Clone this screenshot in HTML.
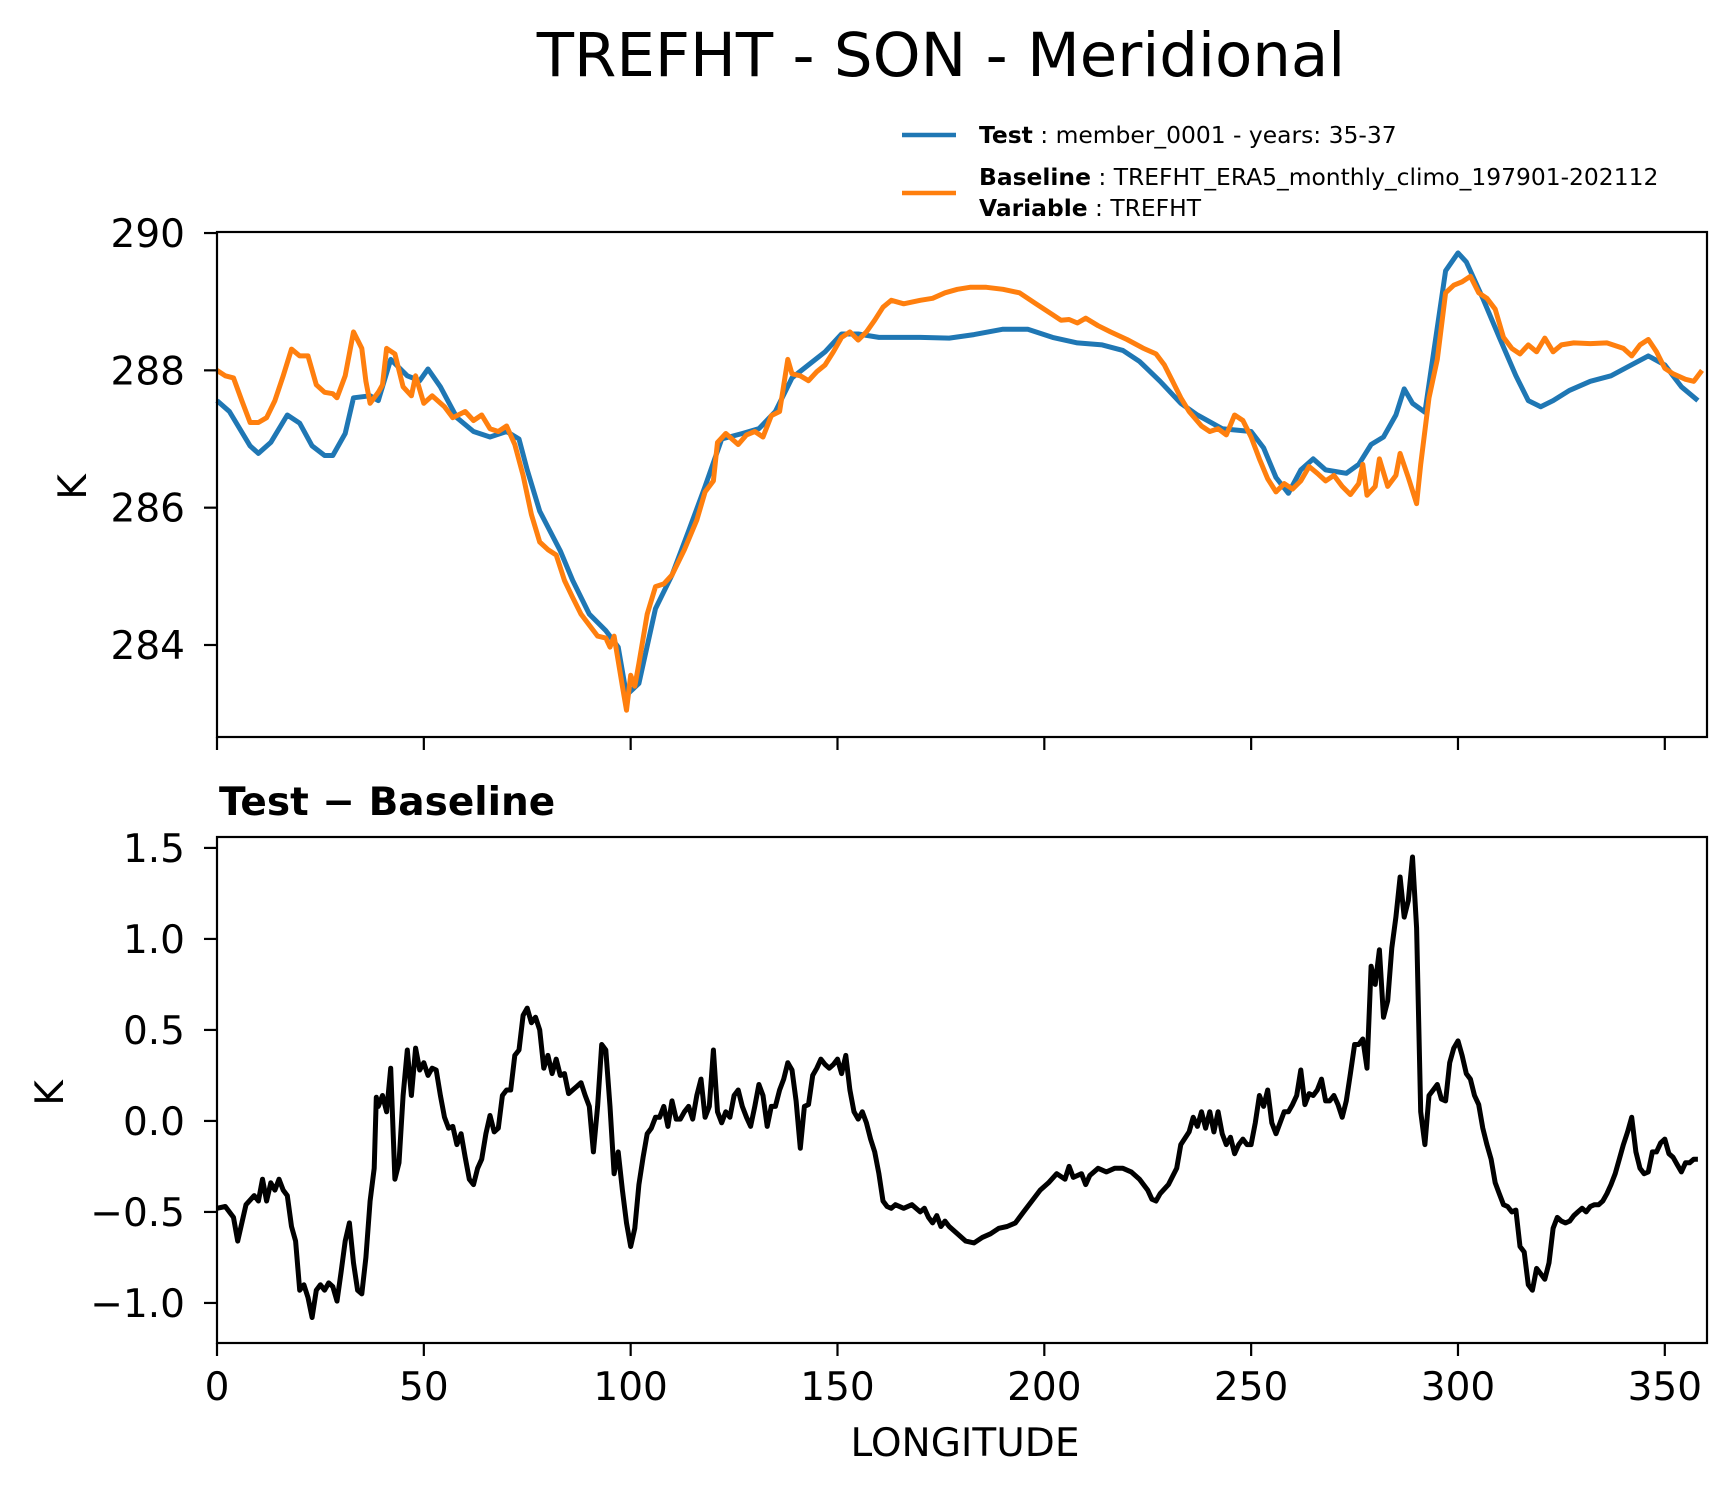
<!DOCTYPE html>
<html><head><meta charset="utf-8"><style>
html,body{margin:0;padding:0;background:#fff;}
svg{display:block;font-family:"DejaVu Sans","Liberation Sans",sans-serif;}
</style></head><body>
<svg id="chart" width="1734" height="1496" viewBox="0 0 1734 1496" xmlns="http://www.w3.org/2000/svg">
<rect width="1734" height="1496" fill="#fff"/>
<text x="941" y="76" font-size="61" text-anchor="middle">TREFHT - SON - Meridional</text>
<g>
<line x1="902" y1="135" x2="956" y2="135" stroke="#1f77b4" stroke-width="4.5"/>
<text x="979" y="143" font-size="23.4"><tspan font-weight="bold">Test</tspan> : member_0001 - years: 35-37</text>
<line x1="902" y1="193" x2="956" y2="193" stroke="#ff7f0e" stroke-width="4.5"/>
<text x="979" y="185" font-size="23.4"><tspan font-weight="bold">Baseline</tspan> : TREFHT_ERA5_monthly_climo_197901-202112</text>
<text x="979" y="216" font-size="23.4"><tspan font-weight="bold">Variable</tspan> : TREFHT</text>
</g>
<g id="top"></g>
<g id="bot"></g>
<text x="219" y="815" font-size="39" font-weight="bold">Test − Baseline</text>
<text transform="translate(86,487) rotate(-90)" font-size="39" text-anchor="middle">K</text>
<text transform="translate(63,1093) rotate(-90)" font-size="39" text-anchor="middle">K</text>
<text x="965" y="1456" font-size="39" text-anchor="middle">LONGITUDE</text>
</svg>
<script>
const testLon=[0,3,8,10,13,17,20,23,26,28,31,33,37,39,42,46,49,51,54,58,62,66,70,73,75,78,83,86,90,94,97,99,102,106,110,114,118,122,127,131,135,139,143,147,151,155,160,170,177,183,190,196,202,208,214,219,223,228,233,237,243,250,253,256,259,262,265,268,273,276,279,282,285,287,289,292,297,300,302,306,310,314,317,320,323,327,332,337,341,346,350,354,358];
const testVal=[287.56,287.40,286.90,286.79,286.95,287.35,287.23,286.90,286.76,286.76,287.08,287.60,287.63,287.56,288.16,287.92,287.85,288.02,287.76,287.31,287.11,287.03,287.11,287.00,286.55,285.95,285.37,284.94,284.45,284.21,283.97,283.27,283.44,284.53,285.02,285.66,286.31,287.00,287.08,287.15,287.40,287.89,288.08,288.27,288.53,288.53,288.48,288.48,288.47,288.52,288.60,288.60,288.48,288.40,288.37,288.29,288.13,287.84,287.52,287.35,287.15,287.11,286.87,286.44,286.21,286.55,286.71,286.55,286.50,286.63,286.92,287.03,287.35,287.73,287.52,287.39,289.45,289.71,289.58,289.05,288.48,287.92,287.56,287.47,287.56,287.71,287.84,287.92,288.05,288.21,288.08,287.76,287.56];
const baseLon=[0,2,4,6,8,10,12,14,16,18,20,22,24,26,28,29,31,33,35,36,37,39,40,41,43,45,47,48,50,52,55,57,60,62,64,66,68,70,72,74,76,78,80,82,84,86,88,90,92,94,95,96,98,99,100,101,102,104,106,108,110,113,116,118,120,121,123,126,128,130,132,134,136,138,139,141,143,145,147,149,151,153,155,157,159,161,163,166,170,173,176,179,182,186,190,194,198,202,204,206,208,210,213,216,220,224,227,229,231,233,235,238,240,242,244,246,248,250,252,254,256,258,260,262,264,266,268,270,272,274,276,277,278,280,281,283,285,286,288,290,291,293,295,297,299,301,303,305,307,309,311,313,315,317,319,321,323,325,328,332,336,340,342,344,346,348,350,352,355,357,359];
const baseVal=[288.00,287.92,287.89,287.56,287.24,287.24,287.31,287.56,287.92,288.31,288.21,288.21,287.79,287.68,287.66,287.60,287.92,288.56,288.32,287.84,287.52,287.68,287.79,288.32,288.24,287.76,287.63,287.92,287.52,287.63,287.47,287.31,287.40,287.27,287.35,287.15,287.11,287.19,286.92,286.47,285.90,285.50,285.39,285.31,284.94,284.69,284.45,284.29,284.13,284.10,283.97,284.13,283.40,283.05,283.56,283.40,283.73,284.45,284.85,284.89,285.02,285.39,285.82,286.23,286.39,286.95,287.08,286.92,287.06,287.11,287.03,287.34,287.40,288.16,287.95,287.92,287.85,287.98,288.08,288.27,288.48,288.56,288.44,288.56,288.73,288.92,289.02,288.97,289.02,289.05,289.13,289.18,289.21,289.21,289.18,289.13,288.97,288.81,288.73,288.74,288.69,288.76,288.65,288.56,288.45,288.32,288.24,288.08,287.84,287.60,287.40,287.19,287.11,287.15,287.06,287.35,287.27,287.03,286.71,286.42,286.23,286.35,286.27,286.39,286.60,286.50,286.39,286.47,286.31,286.19,286.35,286.63,286.18,286.31,286.71,286.31,286.47,286.79,286.44,286.06,286.63,287.60,288.16,289.13,289.24,289.29,289.37,289.13,289.05,288.89,288.48,288.32,288.24,288.37,288.27,288.47,288.27,288.37,288.40,288.39,288.40,288.32,288.21,288.37,288.45,288.27,288.03,287.95,287.87,287.84,288.00];
const diffLon=[0,2,4,5,7,9,10,11,12,13,14,15,16,17,18,19,20,21,22,23,24,25,26,27,28,29,30,31,32,33,34,35,36,37,38,38.5,39,40,41,42,43,44,45,46,47,48,49,50,51,52,53,54,55,56,57,58,59,60,61,62,63,64,65,66,67,68,69,70,71,72,73,74,75,76,77,78,79,80,81,82,83,84,85,86,87,88,89,90,91,92,93,94,95,96,97,98,99,100,101,102,103,104,105,106,107,108,109,110,111,112,113,114,115,116,117,118,119,120,121,122,123,124,125,126,127,128,129,130,131,132,133,134,135,136,137,138,139,140,141,142,143,144,145,146,147,148,149,150,151,152,153,154,155,156,157,158,159,160,161,162,163,164,166,168,170,171,172,173,174,175,176,177,179,181,183,185,187,189,191,193,195,197,199,201,203,205,206,207,209,210,211,213,215,217,219,221,223,225,226,227,228,230,232,233,235,236,237,238,239,240,241,242,243,244,245,246,247,248,249,250,251,252,253,254,255,256,257,258,259,260,261,262,263,264,265,266,267,268,269,270,271,272,273,274,275,276,277,278,279,280,281,282,283,284,285,286,287,288,289,290,291,292,293,294,295,296,297,298,299,300,301,302,303,304,305,306,307,308,309,310,311,312,313,314,315,316,317,318,319,320,321,322,323,324,325,326,327,328,329,330,331,332,333,334,335,336,337,338,339,340,341,342,343,344,345,346,347,348,349,350,351,352,353,354,355,356,357,358];
const diffVal=[-0.48,-0.47,-0.53,-0.66,-0.46,-0.41,-0.44,-0.32,-0.44,-0.34,-0.38,-0.32,-0.38,-0.41,-0.58,-0.66,-0.93,-0.90,-0.97,-1.08,-0.93,-0.90,-0.93,-0.89,-0.91,-0.99,-0.83,-0.66,-0.56,-0.78,-0.93,-0.95,-0.75,-0.44,-0.26,0.13,0.08,0.14,0.05,0.29,-0.32,-0.23,0.14,0.39,0.14,0.40,0.28,0.32,0.25,0.29,0.28,0.14,0.02,-0.04,-0.03,-0.13,-0.07,-0.20,-0.32,-0.35,-0.26,-0.21,-0.07,0.03,-0.06,-0.04,0.14,0.17,0.17,0.36,0.39,0.58,0.62,0.54,0.57,0.50,0.29,0.36,0.26,0.34,0.25,0.26,0.15,0.17,0.19,0.21,0.14,0.08,-0.17,0.08,0.42,0.39,0.08,-0.29,-0.17,-0.38,-0.56,-0.69,-0.59,-0.35,-0.20,-0.07,-0.04,0.02,0.02,0.08,-0.03,0.11,0.01,0.01,0.05,0.08,0.01,0.14,0.23,0.02,0.08,0.39,0.05,-0.01,0.05,0.02,0.14,0.17,0.08,0.02,-0.03,0.08,0.20,0.14,-0.03,0.08,0.08,0.17,0.23,0.32,0.28,0.11,-0.15,0.08,0.09,0.25,0.29,0.34,0.31,0.29,0.31,0.34,0.26,0.36,0.17,0.05,0.01,0.05,-0.01,-0.10,-0.17,-0.29,-0.44,-0.47,-0.48,-0.46,-0.48,-0.46,-0.50,-0.48,-0.53,-0.56,-0.52,-0.58,-0.55,-0.58,-0.62,-0.66,-0.67,-0.64,-0.62,-0.59,-0.58,-0.56,-0.50,-0.44,-0.38,-0.34,-0.29,-0.32,-0.25,-0.31,-0.29,-0.35,-0.30,-0.26,-0.28,-0.26,-0.26,-0.28,-0.32,-0.38,-0.43,-0.44,-0.40,-0.35,-0.26,-0.13,-0.06,0.02,-0.03,0.05,-0.04,0.05,-0.06,0.05,-0.07,-0.13,-0.09,-0.18,-0.13,-0.10,-0.13,-0.13,-0.01,0.14,0.08,0.17,-0.01,-0.07,-0.01,0.05,0.05,0.09,0.14,0.28,0.09,0.15,0.14,0.17,0.23,0.11,0.11,0.14,0.09,0.02,0.11,0.26,0.42,0.42,0.45,0.29,0.85,0.75,0.94,0.57,0.66,0.95,1.12,1.34,1.12,1.21,1.45,1.06,0.05,-0.13,0.14,0.17,0.20,0.12,0.11,0.32,0.40,0.44,0.36,0.26,0.23,0.14,0.09,-0.04,-0.13,-0.21,-0.34,-0.40,-0.46,-0.47,-0.50,-0.49,-0.69,-0.72,-0.90,-0.93,-0.81,-0.84,-0.87,-0.78,-0.59,-0.53,-0.55,-0.56,-0.55,-0.52,-0.50,-0.48,-0.50,-0.47,-0.46,-0.46,-0.44,-0.40,-0.35,-0.29,-0.21,-0.13,-0.06,0.02,-0.17,-0.26,-0.29,-0.28,-0.17,-0.17,-0.12,-0.10,-0.18,-0.20,-0.24,-0.28,-0.23,-0.23,-0.21,-0.21];
const xTicks=[0,50,100,150,200,250,300,350];
const topYTicks=[284,286,288,290];
const botYTicks=[-1.0,-0.5,0.0,0.5,1.0,1.5];
const botYLabels=["−1.0","−0.5","0.0","0.5","1.0","1.5"];

const NS="http://www.w3.org/2000/svg";
const L=217,R=1707,XMIN=0,XMAX=360.2;
function xs(v){return L+(v-XMIN)/(XMAX-XMIN)*(R-L);}
function mk(tag,attrs,parent){const e=document.createElementNS(NS,tag);for(const k in attrs)e.setAttribute(k,attrs[k]);parent.appendChild(e);return e;}
const topG=document.getElementById('top'),botG=document.getElementById('bot');
const T0=232,T1=737,TYMIN=282.66,TYMAX=290.015;
const B0=837,B1=1343,BYMIN=-1.22,BYMAX=1.56;
const yTop=v=>T1-(v-TYMIN)/(TYMAX-TYMIN)*(T1-T0);
const yBot=v=>B1-(v-BYMIN)/(BYMAX-BYMIN)*(B1-B0);
function path(lon,val,ys){return lon.map((l,i)=>(i?'L':'M')+xs(l).toFixed(1)+','+ys(val[i]).toFixed(1)).join('');}
let p=mk('path',{d:path(testLon,testVal,yTop),fill:'none',stroke:'#1f77b4','stroke-width':5,'stroke-linejoin':'round'},topG);


p=mk('path',{d:path(baseLon,baseVal,yTop),fill:'none',stroke:'#ff7f0e','stroke-width':5,'stroke-linejoin':'round'},topG);


p=mk('path',{d:path(diffLon,diffVal,yBot),fill:'none',stroke:'#000','stroke-width':5,'stroke-linejoin':'round'},botG);


let f=mk('rect',{x:L,y:T0,width:R-L,height:T1-T0,fill:'none',stroke:'#000','stroke-width':2.2},topG);


f=mk('rect',{x:L,y:B0,width:R-L,height:B1-B0,fill:'none',stroke:'#000','stroke-width':2.2},botG);


xTicks.forEach(t=>{
  const x=xs(t);
  let a=mk('line',{x1:x,y1:T1,x2:x,y2:T1+13,stroke:'#000','stroke-width':2.2},topG);
  
  
  a=mk('line',{x1:x,y1:B1,x2:x,y2:B1+13,stroke:'#000','stroke-width':2.2},botG);
  
  
  const tx=mk('text',{x:x,y:1400,'font-size':39,'text-anchor':'middle'},botG);
  tx.textContent=String(t);
  
  
});
topYTicks.forEach(t=>{
  const y=yTop(t);
  const a=mk('line',{x1:L-13,y1:y,x2:L,y2:y,stroke:'#000','stroke-width':2.2},topG);
  
  
  const tx=mk('text',{x:L-32,y:y+14,'font-size':39,'text-anchor':'end'},topG);
  tx.textContent=String(t);
  
  
});
botYTicks.forEach((t,i)=>{
  const y=yBot(t);
  const a=mk('line',{x1:L-13,y1:y,x2:L,y2:y,stroke:'#000','stroke-width':2.2},botG);
  
  
  const tx=mk('text',{x:L-32,y:y+14,'font-size':39,'text-anchor':'end'},botG);
  tx.textContent=botYLabels[i];
  
  
});
</script>
</body></html>
